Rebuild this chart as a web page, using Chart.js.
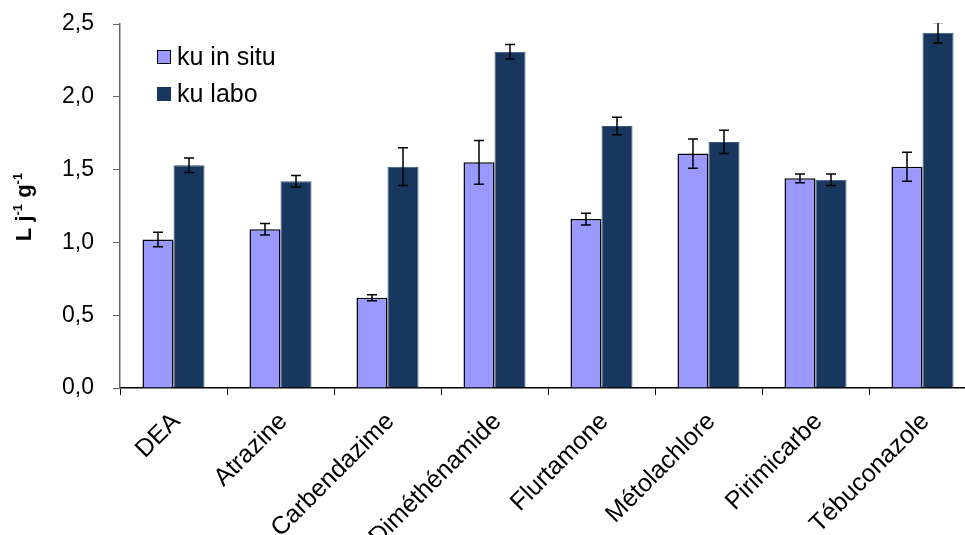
<!DOCTYPE html>
<html>
<head>
<meta charset="utf-8">
<script src="https://cdn.jsdelivr.net/npm/chart.js@4.4.1/dist/chart.umd.min.js"></script>
<style>
    html, body { margin: 0; padding: 0; background: #fff; overflow: hidden; }
    #wrap { position: relative; width: 965px; height: 535px; overflow: hidden; }
    #legend { position: absolute; left: 157px; top: 38px; font: 25px "Liberation Sans", Arial, sans-serif; color: #000; }
    #legend div { display: flex; align-items: center; height: 37px; }
    #legend span.box { display: inline-block; width: 14px; height: 14px; margin-right: 6px; box-sizing: border-box; }
</style>
</head>
<body>
<div id="wrap">
    <canvas id="chart" width="982" height="535"></canvas>
    <div id="legend"></div>
</div>
<script>
const categories = ['DEA', 'Atrazine', 'Carbendazime', 'Diméthénamide', 'Flurtamone', 'Métolachlore', 'Pirimicarbe', 'Tébuconazole'];
const seriesNames = ['ku in situ', 'ku labo'];
const inSitu = [1.02, 1.09, 0.62, 1.55, 1.16, 1.61, 1.44, 1.52];
const inSituErr = [0.05, 0.04, 0.02, 0.15, 0.04, 0.10, 0.03, 0.10];
const labo = [1.53, 1.42, 1.52, 2.31, 1.80, 1.69, 1.43, 2.44];
const laboErr = [0.05, 0.04, 0.13, 0.05, 0.06, 0.08, 0.04, 0.07];
const yTicks = [0, 0.5, 1.0, 1.5, 2.0, 2.5];

const colors = ['#9999ff', '#17375e'];
const borders = ['#000000', '#3d5878'];
const font = "'Liberation Sans', Arial, sans-serif";

// legend built from the series names
const legend = document.getElementById('legend');
seriesNames.forEach((name, i) => {
    const row = document.createElement('div');
    row.innerHTML = `<span class="box" style="background:${colors[i]};border:${i === 0 ? '1.5px solid #000' : 'none'}"></span>${name}`;
    legend.appendChild(row);
});

const errorBars = {
    id: 'errorBars',
    afterDatasetsDraw(chart) {
        const ctx = chart.ctx;
        const y = chart.scales.y;
        const area = chart.chartArea;
        ctx.save();
        ctx.beginPath();
        ctx.rect(area.left, area.top - 1, area.right - area.left, area.bottom - area.top + 1);
        ctx.clip();
        ctx.strokeStyle = '#000';
        ctx.lineWidth = 1.5;
        chart.data.datasets.forEach((ds, di) => {
            const meta = chart.getDatasetMeta(di);
            meta.data.forEach((bar, i) => {
                const v = ds.data[i];
                const e = ds.errors[i];
                const top = y.getPixelForValue(v + e);
                const bot = y.getPixelForValue(v - e);
                ctx.beginPath();
                ctx.moveTo(bar.x, top);
                ctx.lineTo(bar.x, bot);
                ctx.moveTo(bar.x - 5, top);
                ctx.lineTo(bar.x + 5, top);
                ctx.moveTo(bar.x - 5, bot);
                ctx.lineTo(bar.x + 5, bot);
                ctx.stroke();
            });
        });
        ctx.restore();
    }
};

const yTitle = {
    id: 'yTitle',
    afterDraw(chart) {
        const ctx = chart.ctx;
        ctx.save();
        ctx.translate(31, 207);
        ctx.rotate(-Math.PI / 2);
        ctx.fillStyle = '#000';
        ctx.textBaseline = 'alphabetic';
        const big = 'bold 22px ' + font;
        const small = 'bold 13px ' + font;
        const parts = [['L j', big, 0], ['-1', small, -9], [' g', big, 0], ['-1', small, -9]];
        let w = 0;
        parts.forEach(p => { ctx.font = p[1]; w += ctx.measureText(p[0]).width; });
        let x = -w / 2;
        parts.forEach(p => {
            ctx.font = p[1];
            ctx.fillText(p[0], x, p[2]);
            x += ctx.measureText(p[0]).width;
        });
        ctx.restore();
    }
};

new Chart(document.getElementById('chart'), {
    type: 'bar',
    data: {
        labels: categories,
        datasets: [
            { label: seriesNames[0], data: inSitu, errors: inSituErr, backgroundColor: colors[0], borderColor: borders[0], borderWidth: 1.5 },
            { label: seriesNames[1], data: labo, errors: laboErr, backgroundColor: colors[1], borderColor: borders[1], borderWidth: 1 }
        ]
    },
    options: {
        responsive: false,
        animation: false,
        layout: { padding: { top: 24, right: 6, left: 0, bottom: 0 } },
        categoryPercentage: 0.58,
        barPercentage: 1.0,
        plugins: {
            legend: { display: false },
            tooltip: { enabled: false }
        },
        scales: {
            x: {
                grid: { display: true, drawOnChartArea: false, drawTicks: true, tickLength: 7, color: '#000', offset: true },
                border: { color: '#000', width: 1.5 },
                ticks: { color: '#000', font: { family: font, size: 25 }, minRotation: 45, maxRotation: 45, autoSkip: false, padding: 12, labelOffset: 3 },
                afterFit(scale) { scale.height = 147; }
            },
            y: {
                min: 0,
                max: 2.5,
                afterBuildTicks(scale) { scale.ticks = yTicks.map(v => ({ value: v })); },
                grid: { display: true, drawOnChartArea: false, drawTicks: true, tickLength: 7, color: '#666' },
                border: { color: '#666', width: 1.5 },
                ticks: {
                    color: '#000',
                    font: { family: font, size: 23 },
                    padding: 19,
                    callback: v => v.toFixed(1).replace('.', ',')
                },
                afterFit(scale) {
                    scale.width = 120;
                    scale.paddingTop = 12;
                    scale.paddingBottom = 12;
                }
            }
        }
    },
    plugins: [errorBars, yTitle]
});
</script>
</body>
</html>
